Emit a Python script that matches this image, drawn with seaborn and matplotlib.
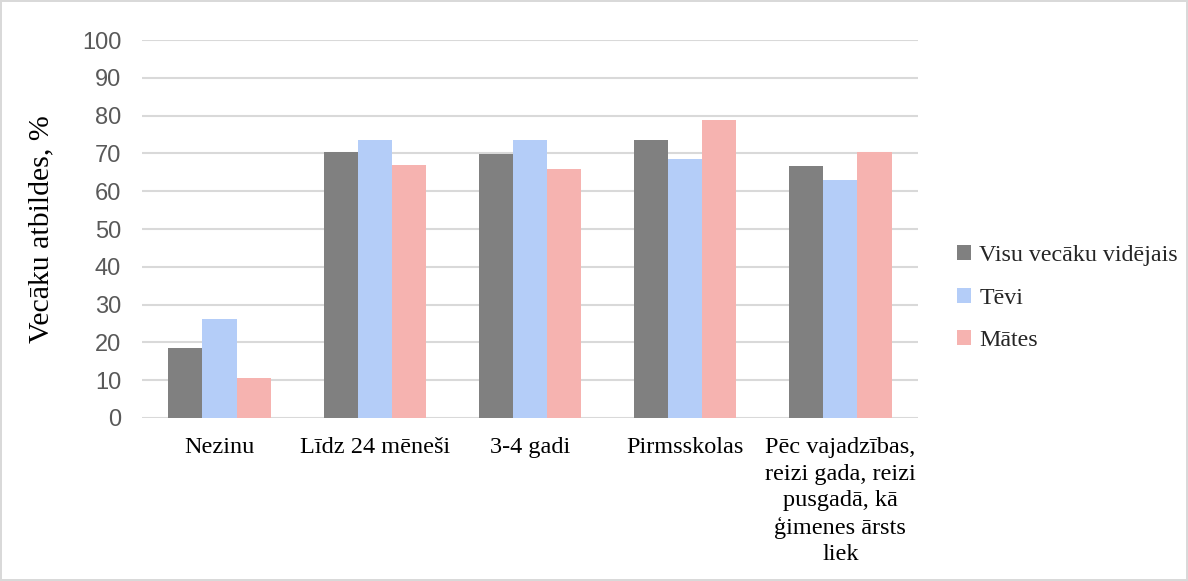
import pandas as pd
import matplotlib.pyplot as plt
import seaborn as sns

categories = ['Nezinu', 'Līdz 24 mēneši', '3-4 gadi', 'Pirmsskolas',
              'Pēc vajadzības,\nreizi gada, reizi\npusgadā, kā\nģimenes ārsts\nliek']
series = ['Visu vecāku vidējais', 'Tēvi', 'Mātes']
avg_vals = [18.5, 70.4, 69.8, 73.5, 66.7]
father_vals = [26.3, 73.6, 73.6, 68.4, 63.0]
mother_vals = [10.7, 67.0, 65.9, 78.8, 70.5]
colors = ['#808080', '#b4cdf8', '#f6b3b0']
yticks = list(range(0, 101, 10))

# long-form table for seaborn
df = pd.DataFrame({
    'kategorija': categories * 3,
    'grupa': [s for s in series for _ in categories],
    'vertiba': avg_vals + father_vals + mother_vals,
})

sns.set_style('white')
fig = plt.figure(figsize=(11.88, 5.81), dpi=100)
fig.patch.set_edgecolor('#d9d9d9')
fig.patch.set_linewidth(1.5)
ax = fig.add_axes([0.1195, 0.2806, 0.6532, 0.6504])

sns.barplot(data=df, x='kategorija', y='vertiba', hue='grupa', order=categories,
            hue_order=series, palette=colors, width=0.66, saturation=1,
            edgecolor='none', ax=ax, legend=True)

ax.set_ylim(0, 100)
ax.set_yticks(yticks)
ax.yaxis.grid(True, color='#d9d9d9', linewidth=1.5)
ax.set_axisbelow(True)
for s in ax.spines.values():
    s.set_visible(False)
ax.tick_params(axis='y', length=0, pad=15, labelsize=17, labelcolor='#595959')
ax.tick_params(axis='x', length=0, pad=14)
for lbl in ax.get_yticklabels():
    lbl.set_family('Liberation Sans')
ax.set_xticks(range(len(categories)))
ax.set_xticklabels(categories, family='Liberation Serif', fontsize=17.5,
                   color='black', linespacing=1.33)
ax.set_xlabel('')
ax.set_ylabel('Vecāku atbildes, %', family='Liberation Serif', fontsize=21.5,
              color='black', labelpad=20)

handles, labels = ax.get_legend_handles_labels()
ax.get_legend().remove()
fig.legend(handles, labels, loc='center left', bbox_to_anchor=(0.787, 0.487),
           frameon=False, prop={'family': 'Liberation Serif', 'size': 17.3},
           handlelength=0.6, handleheight=0.6, handletextpad=0.35,
           labelspacing=0.9)

fig.savefig('out.png', dpi=100, edgecolor=fig.get_edgecolor())
